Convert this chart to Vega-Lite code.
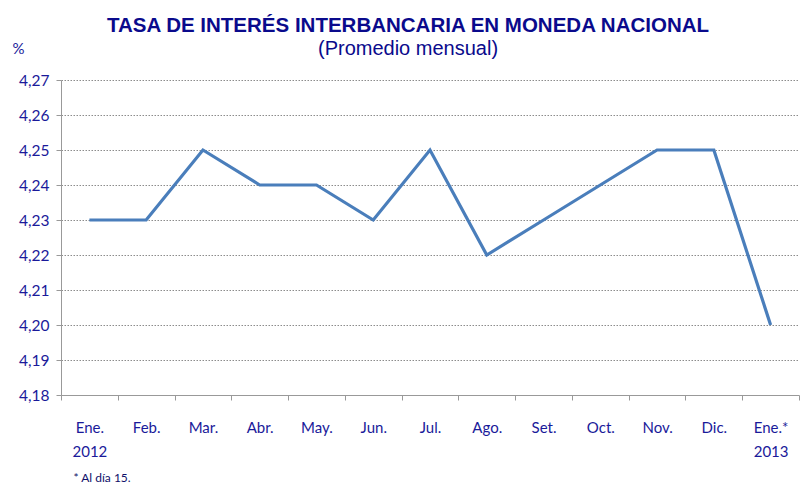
{
  "$schema": "https://vega.github.io/schema/vega-lite/v6.json",
  "autosize": "none",
  "width": 738,
  "height": 315,
  "padding": {"left": 61, "top": 80, "right": 1, "bottom": 88},
  "background": "white",
  "title": {
    "text": "TASA DE INTERÉS INTERBANCARIA EN MONEDA NACIONAL",
    "subtitle": "(Promedio mensual)",
    "anchor": "middle",
    "dx": -22,
    "dy": 45,
    "offset": 27,
    "font": "Liberation Sans Narrow, Liberation Sans, Arial",
    "fontSize": 20.5,
    "fontWeight": "bold",
    "color": "#0a0a8c",
    "subtitleFont": "Liberation Sans Narrow, Liberation Sans, Arial",
    "subtitleFontSize": 20,
    "subtitleColor": "#0a0a8c",
    "subtitlePadding": 3
  },
  "data": {
    "values": [
      {"mes": "Ene.|2012", "tasa": 4.23},
      {"mes": "Feb.", "tasa": 4.23},
      {"mes": "Mar.", "tasa": 4.25},
      {"mes": "Abr.", "tasa": 4.24},
      {"mes": "May.", "tasa": 4.24},
      {"mes": "Jun.", "tasa": 4.23},
      {"mes": "Jul.", "tasa": 4.25},
      {"mes": "Ago.", "tasa": 4.22},
      {"mes": "Set.", "tasa": 4.23},
      {"mes": "Oct.", "tasa": 4.24},
      {"mes": "Nov.", "tasa": 4.25},
      {"mes": "Dic.", "tasa": 4.25},
      {"mes": "Ene.*|2013", "tasa": 4.20}
    ]
  },
  "mark": {"type": "line", "color": "#4a7ebb", "strokeWidth": 3.2, "strokeJoin": "miter"},
  "encoding": {
    "x": {
      "field": "mes",
      "type": "nominal",
      "sort": null,
      "bandPosition": 0.5,
      "scale": {"type": "band", "paddingInner": 0, "paddingOuter": 0},
      "axis": {
        "title": "* Al día 15.",
        "titleX": 12,
        "titleY": 82,
        "titleAlign": "left",
        "titleBaseline": "middle",
        "titleFont": "Lato",
        "titleFontSize": 12,
        "titleFontWeight": "normal",
        "titleColor": "#10106a",
        "labelExpr": "isString(datum.value) ? split(datum.value, '|') : ''",
        "labelAngle": 0,
        "labelFont": "Lato",
        "labelFontSize": 15,
        "labelColor": "#1a1a9a",
        "labelPadding": 20,
        "labelLineHeight": 24,
        "labelBaseline": "top",
        "tickBand": "extent",
        "tickSize": 5,
        "tickColor": "#999999",
        "domainColor": "#999999",
        "grid": false
      }
    },
    "y": {
      "field": "tasa",
      "type": "quantitative",
      "scale": {"domain": [4.18, 4.27], "zero": false, "nice": false},
      "axis": {
        "values": [4.18, 4.19, 4.2, 4.21, 4.22, 4.23, 4.24, 4.25, 4.26, 4.27],
        "labelExpr": "replace(format(datum.value, '.2f'), '.', ',')",
        "title": "%",
        "titleAngle": 0,
        "titleX": -43,
        "titleY": -32,
        "titleAlign": "center",
        "titleBaseline": "middle",
        "titleFont": "Lato",
        "titleFontSize": 15,
        "titleFontWeight": "normal",
        "titleColor": "#1a1a9a",
        "labelFont": "Lato",
        "labelFontSize": 15.5,
        "labelColor": "#1a1a9a",
        "labelPadding": 7,
        "tickSize": 5,
        "tickColor": "#999999",
        "domainColor": "#999999",
        "grid": true,
        "gridColor": "#8c8c8c",
        "gridDash": [1.5, 1.5],
        "gridWidth": 1
      }
    }
  },
  "config": {"view": {"stroke": null}}
}
